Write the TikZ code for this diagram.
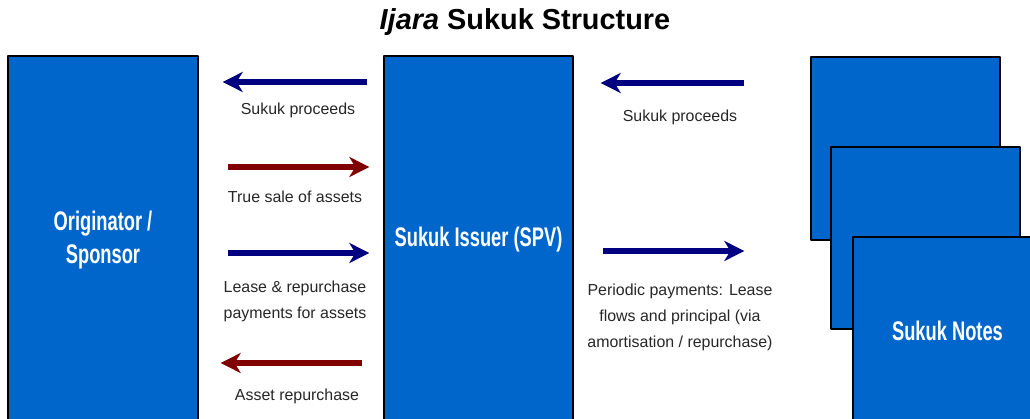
\documentclass[tikz,border=0pt]{standalone}
\usepackage{fontspec}
\setmainfont{Liberation Sans}
\newfontfamily\condfont[FakeStretch=0.68]{Liberation Sans}
\usetikzlibrary{positioning,arrows.meta}
\definecolor{boxblue}{HTML}{0066CC}
\definecolor{flownavy}{HTML}{000080}
\definecolor{flowred}{HTML}{800000}

\begin{document}
\begin{tikzpicture}[>={Stealth[length=20bp,width=20bp,inset=6bp]},line join=bevel,
  party/.style={draw=black,line width=1.3bp,fill=boxblue,text=white,inner sep=0pt,
    font=\condfont\bfseries\fontsize{27}{33}\selectfont,align=center},
  flowtext/.style={font=\fontsize{16}{26}\selectfont,align=center,text=black!85},
  navyflow/.style={flownavy,line width=5.5bp,->},
  redflow/.style={flowred,line width=5.5bp,->}]
\useasboundingbox (0bp,0bp) rectangle (1030bp,419bp);
%%
\node (title) at (525bp,397bp) {\bfseries\fontsize{29}{31}\selectfont\textit{Ijara} Sukuk Structure};
  \node (sponsor) at (103bp,179bp) [party,minimum width=190bp,minimum height=368bp] {Originator /\\Sponsor};
  \node (issuer) at (478.5bp,179bp) [party,minimum width=189bp,minimum height=368bp] {Sukuk Issuer (SPV)};
  \node (notesA) at (905.5bp,270.5bp) [party,minimum width=189bp,minimum height=183bp] {};
  \node (notesB) at (925.5bp,181bp) [party,minimum width=189bp,minimum height=182bp] {};
  \node (notesC) at (947.5bp,88.5bp) [party,minimum width=189bp,minimum height=187bp] {Sukuk Notes};
  \node (proceedsL) at (298bp,309bp) [flowtext] {Sukuk proceeds};
  \node (truesale) at (295bp,222bp) [flowtext] {True sale of assets};
  \node (leasepay) at (295bp,117.5bp) [flowtext] {Lease \& repurchase\\payments for assets};
  \node (repurchase) at (297bp,23bp) [flowtext] {Asset repurchase};
  \node (proceedsR) at (680bp,302bp) [flowtext] {Sukuk proceeds};
  \node (periodic) at (680bp,101.5bp) [flowtext] {Periodic payments: Lease\\flows and principal (via\\amortisation / repurchase)};
  \draw [navyflow,shorten <=16bp,shorten >=24bp] ([yshift=158bp]issuer.west) -- ([yshift=158bp]sponsor.east);
  \draw [redflow,shorten <=29bp,shorten >=14bp] ([yshift=73bp]sponsor.east) -- ([yshift=73bp]issuer.west);
  \draw [navyflow,shorten <=29bp,shorten >=14bp] ([yshift=-13bp]sponsor.east) -- ([yshift=-13bp]issuer.west);
  \draw [redflow,shorten <=21bp,shorten >=22bp] ([yshift=-123bp]issuer.west) -- ([yshift=-123bp]sponsor.east);
  \draw [navyflow,shorten <=66bp,shorten >=27bp] ([yshift=65.5bp]notesA.west) -- ([yshift=157bp]issuer.east);
  \draw [navyflow,shorten <=29bp,shorten >=86bp] ([yshift=-11bp]issuer.east) -- ([yshift=-13bp]notesB.west);
%
\end{tikzpicture}
\end{document}
